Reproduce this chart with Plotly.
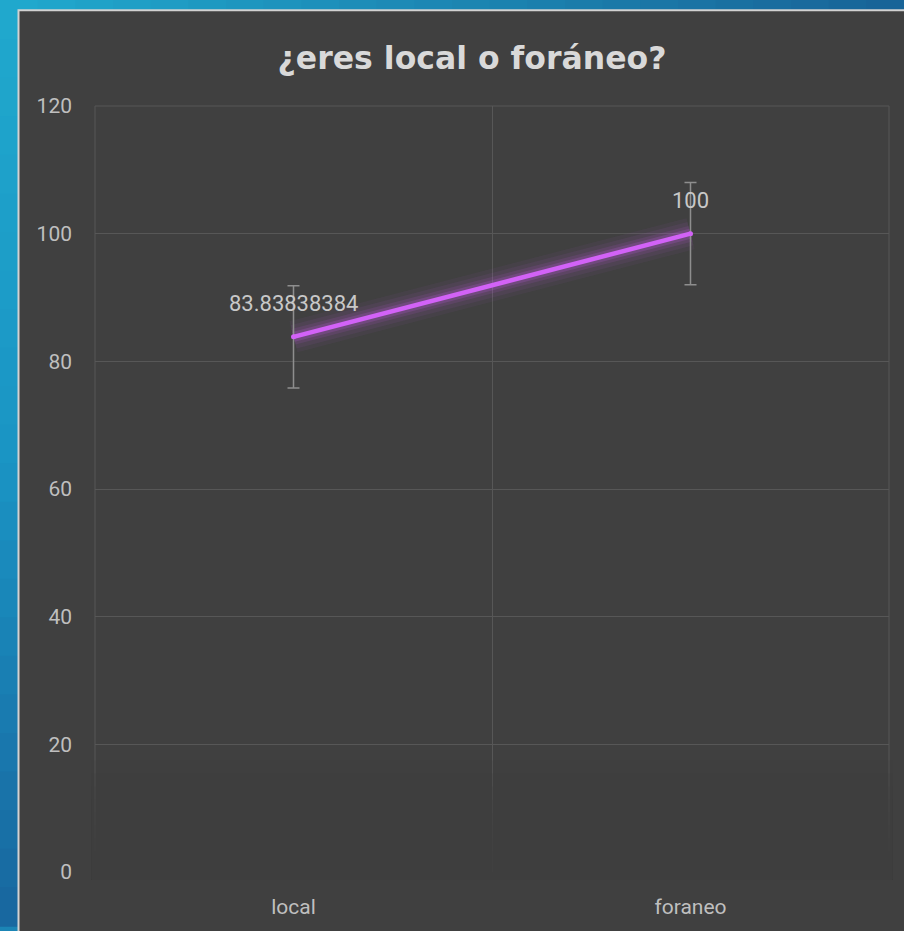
import plotly.graph_objects as go

# ---- data ----
categories = ["local", "foraneo"]
values = [83.83838384, 100]
errors = [8, 8]
labels = ["83.83838384", "100"]
y_ticks = [0, 20, 40, 60, 80, 100, 120]
title_text = "¿eres local o foráneo?"

W, H = 904, 931
ml, mr, mt, mb = 95, 15, 106, 54
pw = W - ml - mr
ph = H - mt - mb

def px_x(p):
    return (p - ml) / pw

def px_y(p):
    return (H - mb - p) / ph

def lerp(c0, c1, f):
    return tuple(int(round(c0[k] + (c1[k] - c0[k]) * f)) for k in range(3))

fig = go.Figure()

# glow layers
for w, a in [(32, 0.05), (24, 0.07), (16, 0.11), (10, 0.18)]:
    fig.add_trace(go.Scatter(
        x=categories, y=values, mode="lines",
        line=dict(color=f"rgba(205,95,245,{a})", width=w),
        hoverinfo="skip", showlegend=False))

fig.add_trace(go.Scatter(
    x=categories, y=values, mode="lines+markers",
    line=dict(color="#d262f7", width=4.5),
    marker=dict(size=5, color="#d262f7"),
    error_y=dict(type="data", array=errors, visible=True,
                 color="#8e8e8e", thickness=1.5, width=6),
    showlegend=False))

for c, v, t in zip(categories, values, labels):
    fig.add_annotation(x=c, y=v, text=t, showarrow=False, yshift=33,
                       font=dict(family="Roboto", size=22, color="#c8c8c8"))

shapes = []
# blue background: left strip (vertical gradient) and top strip (horizontal gradient)
tl = (32, 168, 205)
mid = (26, 148, 196)
bl = (24, 104, 160)
tr = (24, 100, 152)
n = 24
for i in range(n):
    f = i / (n - 1)
    col = lerp(tl, mid, f * 2) if f < 0.5 else lerp(mid, bl, (f - 0.5) * 2)
    y0 = i * H / n
    y1 = (i + 1) * H / n
    shapes.append(dict(type="rect", xref="paper", yref="paper", layer="below",
                       x0=px_x(-2), x1=px_x(30), y0=px_y(y1 + 1), y1=px_y(y0),
                       fillcolor=f"rgb{col}", line=dict(width=0)))
for i in range(n):
    f = i / (n - 1)
    col = lerp(tl, tr, f)
    x0 = i * W / n
    x1 = (i + 1) * W / n
    shapes.append(dict(type="rect", xref="paper", yref="paper", layer="below",
                       x0=px_x(x0), x1=px_x(x1 + 1), y0=px_y(20), y1=px_y(-2),
                       fillcolor=f"rgb{col}", line=dict(width=0)))
# dark panel
shapes.append(dict(type="rect", xref="paper", yref="paper", layer="below",
                   x0=px_x(18.5), x1=px_x(W + 20), y0=px_y(H + 20), y1=px_y(9.5),
                   fillcolor="#404040", line=dict(color="#d2d2d2", width=2)))
# plot-area frame (left, right, top) in grid colour
grid_col = "#575757"
for x0, x1, y0, y1 in [(0, 0, 0, 1), (1, 1, 0, 1), (0, 1, 1, 1)]:
    shapes.append(dict(type="line", xref="paper", yref="paper", layer="below",
                       x0=x0, x1=x1, y0=y0, y1=y1,
                       line=dict(color=grid_col, width=1)))
# bottom fade of gridlines
for k in range(1, 9):
    shapes.append(dict(type="rect", xref="paper", yref="paper", layer="above",
                       x0=-0.005, x1=1.005, y0=-0.01, y1=px_y(H - mb - 8 - 13 * k),
                       fillcolor="rgba(64,64,64,0.24)", line=dict(width=0)))

fig.update_layout(
    width=W, height=H,
    margin=dict(l=ml, r=mr, t=mt, b=mb),
    paper_bgcolor="#1b85b5",
    plot_bgcolor="rgba(0,0,0,0)",
    shapes=shapes,
    title=dict(text=f"<b>{title_text}</b>", x=472 / W, xanchor="center",
               y=1 - 58 / H, yanchor="middle",
               font=dict(family="DejaVu Sans", size=31.5, color="#d9d9d9")),
    xaxis=dict(type="category", range=[-0.5, 1.5], tickson="boundaries",
               showgrid=True, gridcolor=grid_col, gridwidth=1,
               showline=False, zeroline=False, ticks="",
               ticklabelstandoff=20,
               tickfont=dict(family="Roboto", size=21, color="#bfbfbf")),
    yaxis=dict(range=[0, 120], tickvals=y_ticks, showgrid=True,
               gridcolor=grid_col, gridwidth=1, zeroline=False,
               showline=False, ticks="", ticklabelstandoff=22,
               tickfont=dict(family="Roboto", size=21, color="#bfbfbf")),
    font=dict(family="Roboto"),
)

fig.write_html("out.html", config={"displayModeBar": False},
               post_script="document.body.style.margin='0';document.body.style.overflow='hidden';")
